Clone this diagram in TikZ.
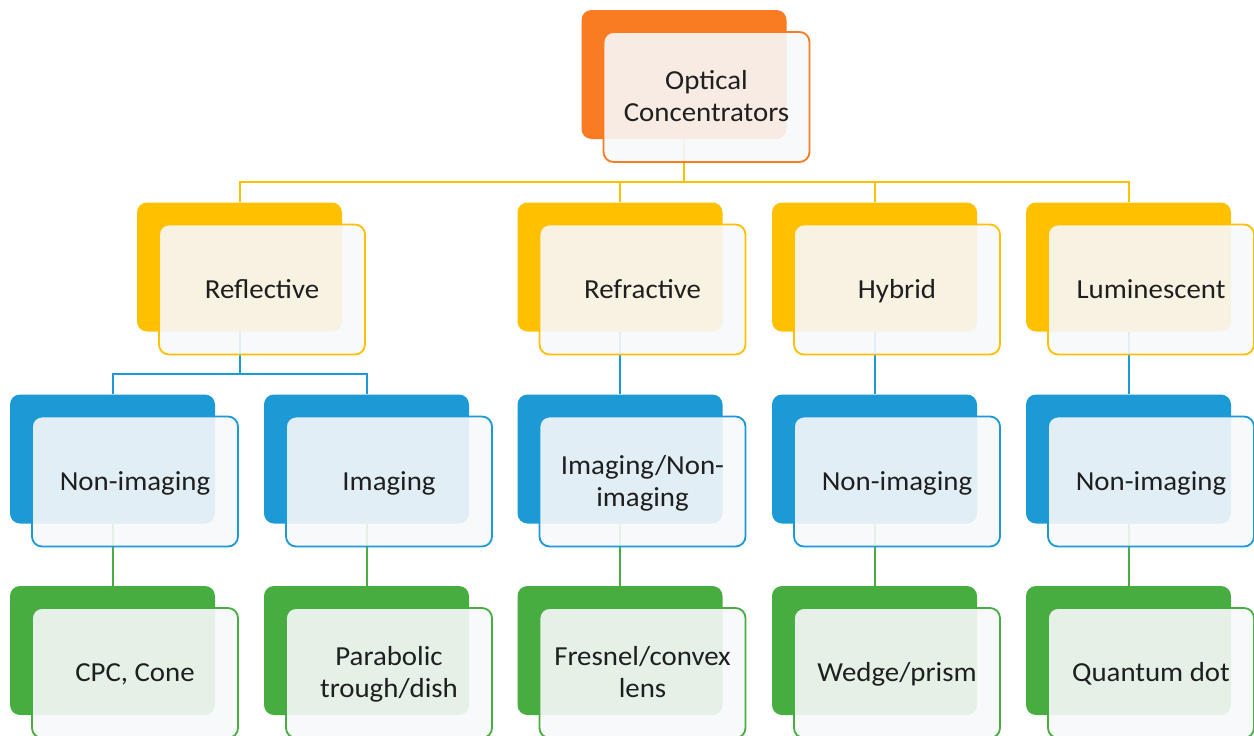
\documentclass[tikz,border=0pt]{standalone}
\usepackage{fontspec}
\setmainfont[FakeStretch=1.05]{Carlito}
\usetikzlibrary{backgrounds}
\definecolor{cOrange}{RGB}{249,123,34}
\definecolor{cGold}{RGB}{255,192,0}
\definecolor{cBlue}{RGB}{27,154,214}
\definecolor{cGreen}{RGB}{72,173,64}
\definecolor{cFront}{RGB}{247,248,250}
\tikzset{
 backbox/.style={rectangle, rounded corners=10pt, minimum width=205pt, minimum height=129pt, inner sep=0pt, fill=#1},
 frontbox/.style={rectangle, rounded corners=10pt, minimum width=206pt, minimum height=130pt, inner sep=0pt, draw=#1, line width=1.8pt, fill=cFront, fill opacity=0.9, text opacity=1, align=center, font=\fontsize{27.5}{32}\selectfont, text=black!88},
 conn/.style={draw=#1, line width=2pt},
}
\newcommand\lblstrut{\rule[-6pt]{0pt}{29pt}}
\newcommand\pairnode[5]{%
 \node[backbox=#4] (#1-b) at (#2,#3) {};
 \node[frontbox=#4] (#1) at (#2+22.5,#3+22.5) {\lblstrut #5\lblstrut};
}
\begin{document}
\begin{tikzpicture}[x=1pt,y=-1pt]
\useasboundingbox (0,0) rectangle (1254,736);
\pairnode{oc}{684}{74.5}{cOrange}{Optical\\Concentrators}
\pairnode{refl}{239.5}{267}{cGold}{Reflective}
\pairnode{refr}{620}{267}{cGold}{Refractive}
\pairnode{hyb}{874.5}{267}{cGold}{Hybrid}
\pairnode{lum}{1128.5}{267}{cGold}{Luminescent}
\pairnode{nia}{112.5}{459}{cBlue}{Non-imaging}
\pairnode{ima}{366.5}{459}{cBlue}{Imaging}
\pairnode{imn}{620}{459}{cBlue}{Imaging/Non-\\imaging}
\pairnode{nib}{874.5}{459}{cBlue}{Non-imaging}
\pairnode{nic}{1128.5}{459}{cBlue}{Non-imaging}
\pairnode{cpc}{112.5}{650.5}{cGreen}{CPC, Cone}
\pairnode{par}{366.5}{650.5}{cGreen}{Parabolic\\trough/dish}
\pairnode{fre}{620}{650.5}{cGreen}{Fresnel/convex\\lens}
\pairnode{wed}{874.5}{650.5}{cGreen}{Wedge/prism}
\pairnode{qd}{1128.5}{650.5}{cGreen}{Quantum dot}
\coordinate (bus1) at (0,182);
\coordinate (bus2) at (0,374);
\begin{pgfonlayer}{background}
\draw[conn=cGold] (oc-b.south) -- (oc-b.south |- bus1) -| (refl-b.north);
\draw[conn=cGold] (oc-b.south |- bus1) -| (refr-b.north);
\draw[conn=cGold] (oc-b.south |- bus1) -| (hyb-b.north);
\draw[conn=cGold] (oc-b.south |- bus1) -| (lum-b.north);
\draw[conn=cBlue] (refl-b.south) -- (refl-b.south |- bus2) -| (nia-b.north);
\draw[conn=cBlue] (refl-b.south |- bus2) -| (ima-b.north);
\draw[conn=cBlue] (refr-b.south) -- (imn-b.north);
\draw[conn=cBlue] (hyb-b.south) -- (nib-b.north);
\draw[conn=cBlue] (lum-b.south) -- (nic-b.north);
\draw[conn=cGreen] (nia-b.south) -- (cpc-b.north);
\draw[conn=cGreen] (ima-b.south) -- (par-b.north);
\draw[conn=cGreen] (imn-b.south) -- (fre-b.north);
\draw[conn=cGreen] (nib-b.south) -- (wed-b.north);
\draw[conn=cGreen] (nic-b.south) -- (qd-b.north);
\end{pgfonlayer}
\end{tikzpicture}
\end{document}
